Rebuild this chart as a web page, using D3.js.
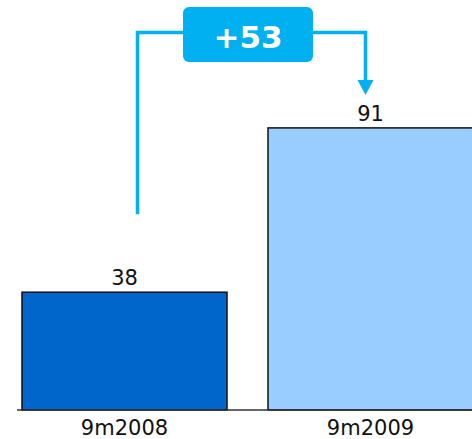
<!DOCTYPE html>
<html><head><meta charset="utf-8">
<script src="https://cdn.jsdelivr.net/npm/d3@7"></script>
<style>html,body{margin:0;padding:0;background:#fff;}svg{display:block;}</style>
</head><body>
<svg id="c" width="472" height="439"></svg>
<script>
const categories = ["9m2008", "9m2009"];
const values = [38, 91];
const barColors = ["#0066CC", "#99CCFF"];
const deltaLabel = "+" + (values[1] - values[0]);

const W = 472, H = 439;
const svg = d3.select("#c");
const x = d3.scaleBand().domain(categories).range([22, 473]).paddingInner(1/6).paddingOuter(0);
const y = d3.scaleLinear().domain([0, 100]).range([410, 100]);

// bars
svg.selectAll("rect.bar").data(values).enter().append("rect")
  .attr("class", "bar")
  .attr("x", (d, i) => x(categories[i]))
  .attr("y", d => y(d))
  .attr("width", x.bandwidth())
  .attr("height", d => y(0) - y(d))
  .attr("fill", (d, i) => barColors[i])
  .attr("stroke", "#111").attr("stroke-width", 1.5);

// axis baseline
svg.append("line").attr("x1", 17).attr("x2", W).attr("y1", y(0)).attr("y2", y(0))
  .attr("stroke", "#333").attr("stroke-width", 1.5);

// value labels
svg.selectAll("text.val").data(values).enter().append("text")
  .attr("x", (d, i) => x(categories[i]) + x.bandwidth() / 2)
  .attr("y", d => y(d) - 7)
  .attr("text-anchor", "middle")
  .attr("font-family", "DejaVu Sans, Verdana, sans-serif")
  .attr("font-size", 21).attr("fill", "#111")
  .text(d => d);

// category labels
svg.selectAll("text.cat").data(categories).enter().append("text")
  .attr("x", d => x(d) + x.bandwidth() / 2)
  .attr("y", 435)
  .attr("text-anchor", "middle")
  .attr("font-family", "DejaVu Sans, Verdana, sans-serif")
  .attr("font-size", 21).attr("fill", "#111")
  .text(d => d);

// difference annotation
const ac = "#00B0F0";
const lx = x(categories[0]) + x.bandwidth() / 2 + 13;
const rx = x(categories[1]) + x.bandwidth() / 2 - 5;
const topY = 32.5;
const lBottom = y(values[0]) - 78;
const tipY = y(values[1]) - 33;
svg.append("path")
  .attr("d", `M${lx},${lBottom} V${topY} H${rx} V${tipY - 14}`)
  .attr("fill", "none").attr("stroke", ac).attr("stroke-width", 3.5);
svg.append("path")
  .attr("d", `M${rx - 8},${tipY - 15} L${rx + 8},${tipY - 15} L${rx},${tipY} Z`)
  .attr("fill", ac);
svg.append("rect").attr("x", 183).attr("y", 7).attr("width", 130).attr("height", 55)
  .attr("rx", 6).attr("fill", ac);
svg.append("text").attr("x", 248).attr("y", 47.5)
  .attr("text-anchor", "middle")
  .attr("font-family", "DejaVu Sans, Verdana, sans-serif")
  .attr("font-weight", "bold").attr("font-size", 31).attr("fill", "#fff")
  .text(deltaLabel);
</script>
</body></html>
